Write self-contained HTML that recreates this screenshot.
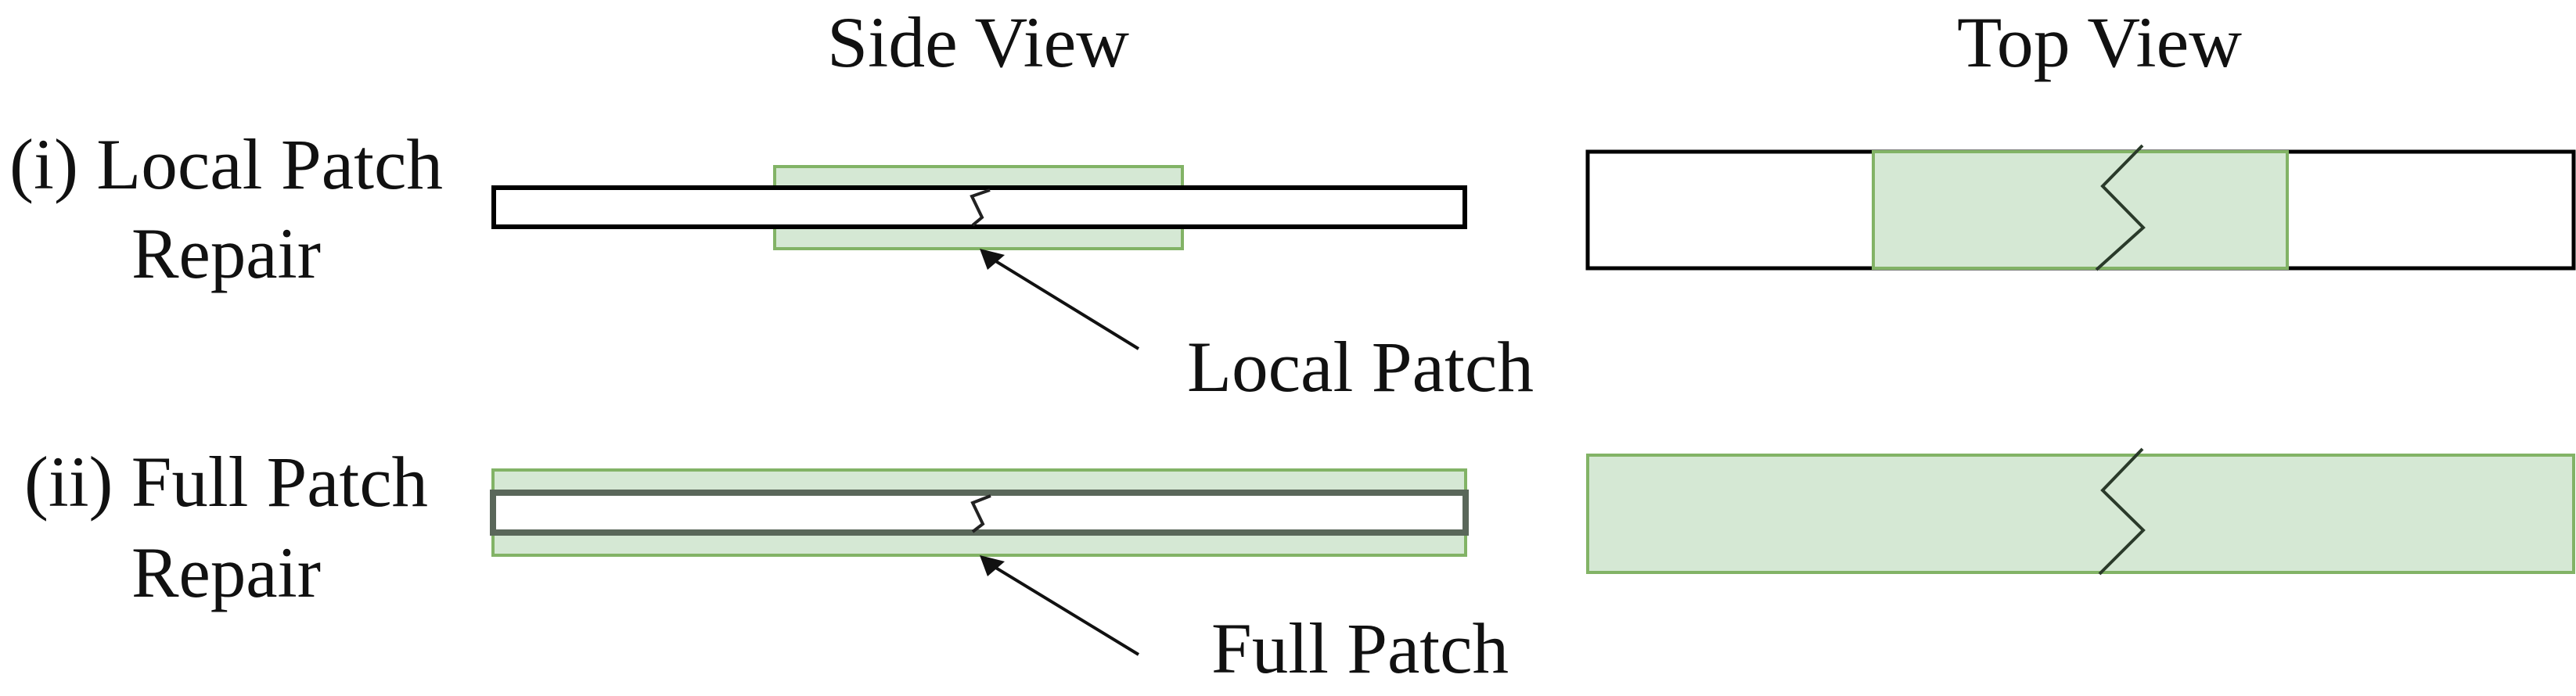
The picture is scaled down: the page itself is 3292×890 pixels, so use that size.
<!DOCTYPE html>
<html><head><meta charset="utf-8"><style>
html,body{margin:0;padding:0;background:#fff;}
svg{display:block;}
text{font-family:"Liberation Serif",serif;font-size:92px;fill:#111;}
</style></head><body>
<svg width="3292" height="890" viewBox="0 0 3292 890" xmlns="http://www.w3.org/2000/svg">
<text x="1057" y="85" textLength="386" lengthAdjust="spacingAndGlyphs">Side View</text>
<text x="2501" y="85" textLength="364" lengthAdjust="spacingAndGlyphs">Top View</text>
<text x="12" y="241" textLength="554" lengthAdjust="spacingAndGlyphs">(i) Local Patch</text>
<text x="168" y="355" textLength="242" lengthAdjust="spacingAndGlyphs">Repair</text>
<text x="31" y="647" textLength="516" lengthAdjust="spacingAndGlyphs">(ii) Full Patch</text>
<text x="168" y="763" textLength="242" lengthAdjust="spacingAndGlyphs">Repair</text>
<text x="1517" y="500" textLength="443" lengthAdjust="spacingAndGlyphs">Local Patch</text>
<text x="1548" y="860" textLength="380" lengthAdjust="spacingAndGlyphs">Full Patch</text>

<rect x="990" y="213" width="521" height="105" fill="#d5e8d4" stroke="#82b366" stroke-width="4"/>
<rect x="631" y="240" width="1241" height="50" fill="#fff" stroke="#000" stroke-width="6"/>
<polyline points="1265,243 1242,251 1255,278 1243,288" fill="none" stroke="#222" stroke-width="4"/>
<line x1="1455" y1="446" x2="1266" y2="330" stroke="#111" stroke-width="4"/>
<polygon points="1252,318 1284,326 1262,345" fill="#111"/>

<rect x="630" y="601" width="1243" height="109" fill="#d5e8d4" stroke="#82b366" stroke-width="4"/>
<rect x="630" y="630" width="1243" height="51" fill="#fff" stroke="#5a675a" stroke-width="8"/>
<polyline points="1266,634 1243,643 1256,670 1243,680" fill="none" stroke="#222" stroke-width="4"/>
<line x1="1455" y1="837" x2="1266" y2="722" stroke="#111" stroke-width="4"/>
<polygon points="1252,710 1284,718 1262,737" fill="#111"/>

<rect x="2029" y="194" width="1260" height="149" fill="#fff" stroke="#000" stroke-width="5"/>
<rect x="2394" y="194" width="529" height="149" fill="#d5e8d4" stroke="#82b366" stroke-width="4"/>
<polyline points="2738,186 2687,238 2739,291 2679,345" fill="none" stroke="#2a3a2a" stroke-width="4"/>

<rect x="2029" y="582" width="1260" height="150" fill="#d5e8d4" stroke="#82b366" stroke-width="4"/>
<polyline points="2738,574 2687,627 2739,678 2683,734" fill="none" stroke="#2a3a2a" stroke-width="4"/>
</svg>
</body></html>
